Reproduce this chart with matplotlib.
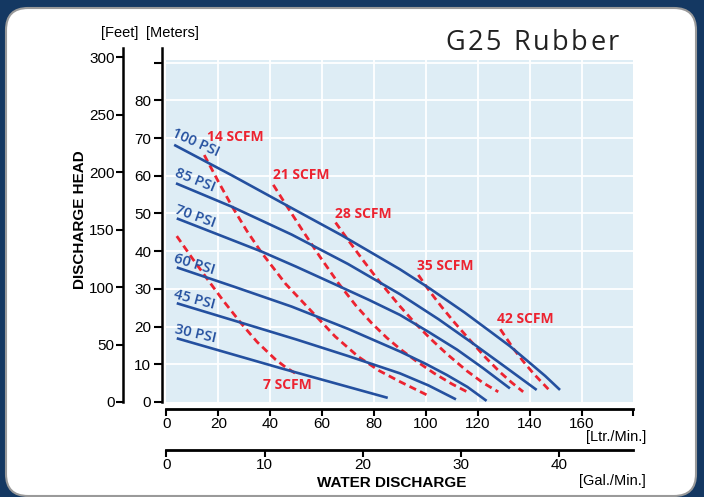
import numpy as np
import matplotlib
matplotlib.use('Agg')
import matplotlib.pyplot as plt
from matplotlib.patches import FancyBboxPatch, Rectangle
from matplotlib.transforms import IdentityTransform

# --- air pressure curves (x = Ltr./Min., y = Meters) ---
psi_names = ['100 PSI', '85 PSI', '70 PSI', '60 PSI', '45 PSI', '30 PSI']
psi100_x = [3.0, 25, 45.7, 67.6, 90, 101.3, 115, 125, 132.4, 140, 146, 151.7]
psi100_y = [68.2, 60.2, 52.4, 44.2, 35.2, 30.2, 23.7, 18.6, 14.8, 10.4, 6.9, 3.2]
psi85_x = [3.7, 25.2, 48.3, 70, 90, 105, 118, 130, 142.7]
psi85_y = [58.0, 51.8, 44.4, 36.6, 28.6, 21.9, 15.6, 9.6, 3.2]
psi70_x = [4.0, 20, 36.7, 50, 65, 78, 90, 101, 112, 122, 132.4]
psi70_y = [48.7, 44.4, 39.9, 35.9, 31.2, 27.1, 23.1, 18.6, 13.9, 9.0, 3.6]
psi60_x = [4.0, 26, 48.3, 70, 90, 100, 108, 116, 123.4]
psi60_y = [35.7, 30.6, 25.3, 19.4, 13.4, 10.1, 7.2, 4.0, 0.3]
psi45_x = [4.0, 28, 50, 70, 90, 101, 111.6]
psi45_y = [26.2, 21.2, 16.6, 12.2, 7.6, 4.4, 0.7]
psi30_x = [4.0, 44.4, 85.3]
psi30_y = [16.9, 8.9, 1.1]

# --- air consumption curves ---
scfm_names = ['7 SCFM', '14 SCFM', '21 SCFM', '28 SCFM', '35 SCFM', '42 SCFM']
scfm7_x = [4.0, 10, 16.1, 22, 29.0, 35, 42.0, 46, 50.2]
scfm7_y = [44.0, 38.1, 32.3, 26.8, 20.7, 15.9, 11.3, 9.2, 7.4]
scfm14_x = [14.6, 20, 25.2, 31, 36.7, 46, 56, 65, 74, 82, 90, 100.3]
scfm14_y = [65.5, 58.5, 52.0, 45.4, 39.6, 31.3, 24.0, 17.4, 12.0, 8.3, 5.4, 1.9]
scfm21_x = [41.2, 46, 52, 59, 66.2, 73, 79, 85, 90, 96, 103, 110, 117]
scfm21_y = [57.6, 52.4, 46.0, 38.7, 31.6, 25.6, 21.0, 17.0, 14.1, 11.0, 7.7, 4.8, 2.3]
scfm28_x = [65.2, 70, 76, 81.7, 90, 96, 101.6, 108, 115.7, 122, 127.9]
scfm28_y = [47.6, 43.0, 37.4, 32.3, 25.4, 20.8, 16.9, 12.8, 8.3, 5.1, 2.7]
scfm35_x = [97.1, 101.3, 106, 111, 117, 123, 128.6, 133, 137.5]
scfm35_y = [33.7, 29.5, 25.3, 21.1, 16.4, 11.8, 7.9, 5.2, 2.7]
scfm42_x = [128.7, 133.7, 137.5, 141.4, 147.2]
scfm42_y = [19.3, 14.2, 10.8, 7.6, 3.4]

# axis ticks
lpm_ticks = [0, 20, 40, 60, 80, 100, 120, 140, 160]
gpm_ticks = [0, 10, 20, 30, 40]
meter_ticks = [0, 10, 20, 30, 40, 50, 60, 70, 80]
feet_ticks = [0, 50, 100, 150, 200, 250, 300]

LPM_PER_GAL = 3.78541
FT_PER_M = 3.28084

BLUE = '#24509f'
RED = '#ec2330'
BG = '#deedf5'
NAVY = '#143862'
NARROW = ['Liberation Sans Narrow', 'Liberation Sans', 'DejaVu Sans']
BOLD = ['Liberation Sans', 'DejaVu Sans']
LABEL = ['Open Sans', 'DejaVu Sans']

fig = plt.figure(figsize=(7.04, 4.97), dpi=100, facecolor=NAVY)

# white rounded panel
panel = FancyBboxPatch((6, 1), 690, 488, boxstyle='round,pad=0,rounding_size=22',
                       transform=IdentityTransform(), facecolor='white',
                       edgecolor='#9a9a9a', linewidth=1.5, zorder=-10)
fig.patches.append(panel)

# main plot (meters axis on the left spine)
ax = fig.add_axes([0.2308, 0.19115, 0.6690, 0.7131])
ax.set_facecolor('none')
ax.set_xlim(-1.5, 180)
ax.set_ylim(0, 94)
for s in ['top', 'right', 'bottom']:
    ax.spines[s].set_visible(False)
ax.spines['left'].set_linewidth(1.8)
ax.set_xticks([])
ax.set_yticks(meter_ticks + [90])
ax.set_yticklabels([str(t) for t in meter_ticks] + [''], family=NARROW, fontsize=11)
ax.tick_params(axis='y', direction='out', length=6, width=1.5, pad=2)

ax.add_patch(Rectangle((0, 0), 180, 90.6, facecolor=BG, edgecolor='none', zorder=0))
ax.vlines(lpm_ticks[1:], 0, 90.6, colors='white', linewidth=1.3, zorder=1)
ax.hlines(np.arange(10, 100, 10), 0, 180, colors='white', linewidth=1.3, zorder=1)

psi_series = [(psi100_x, psi100_y), (psi85_x, psi85_y), (psi70_x, psi70_y),
              (psi60_x, psi60_y), (psi45_x, psi45_y), (psi30_x, psi30_y)]
scfm_series = [(scfm7_x, scfm7_y), (scfm14_x, scfm14_y), (scfm21_x, scfm21_y),
               (scfm28_x, scfm28_y), (scfm35_x, scfm35_y), (scfm42_x, scfm42_y)]

for xs, ys in scfm_series:
    ax.plot(xs, ys, color=RED, linewidth=2, linestyle=(0, (2.6, 1.6)), zorder=2)
for xs, ys in psi_series:
    ax.plot(xs, ys, color=BLUE, linewidth=1.9, zorder=3, solid_capstyle='butt',
            solid_joinstyle='round')

# curve labels
psi_label_pos = [(11.3, 68.8, -24), (11.1, 58.9, -22), (11.1, 49.2, -20),
                 (10.9, 36.6, -17), (10.8, 27.1, -15), (11.2, 18.0, -13)]
for name, (lx, ly, rot) in zip(psi_names, psi_label_pos):
    ax.text(lx, ly, name, color=BLUE, fontsize=10.5, fontweight='semibold',
            family=LABEL, rotation=rot, ha='center', va='center',
            rotation_mode='anchor', zorder=4)

scfm_label_pos = [(37.3, 4.5), (15.5, 70.2), (41.2, 60.1), (65.0, 49.9),
                  (96.5, 36.1), (127.3, 22.0)]
for name, (lx, ly) in zip(scfm_names, scfm_label_pos):
    ax.text(lx, ly, name, color=RED, fontsize=10, fontweight='bold',
            family=LABEL, ha='left', va='center', zorder=4)

# feet axis
axf = fig.add_axes([0.1747, 0.19115, 0.0005, 0.7131])
axf.set_facecolor('none')
axf.set_ylim(0, 94 * FT_PER_M)
for s in ['top', 'right', 'bottom']:
    axf.spines[s].set_visible(False)
axf.spines['left'].set_linewidth(1.8)
axf.set_xticks([])
axf.set_yticks(feet_ticks)
axf.set_yticklabels([str(t) for t in feet_ticks], family=NARROW, fontsize=11)
axf.tick_params(axis='y', direction='out', length=5, width=1.5, pad=1)

# Ltr./Min. axis
axl = fig.add_axes([0.2308, 0.17706, 0.6690, 0.0001])
axl.set_facecolor('none')
axl.set_xlim(-1.5, 180)
for s in ['top', 'right', 'left']:
    axl.spines[s].set_visible(False)
axl.spines['bottom'].set_bounds(0, 180)
axl.spines['bottom'].set_linewidth(2)
axl.set_yticks([])
axl.set_xticks(lpm_ticks + [180])
axl.set_xticklabels([str(t) for t in lpm_ticks] + [''], family=NARROW, fontsize=11)
axl.tick_params(axis='x', direction='out', length=5, width=1.5, pad=1)

# Gal./Min. axis
axg = fig.add_axes([0.2308, 0.09457, 0.6690, 0.0001])
axg.set_facecolor('none')
axg.set_xlim(-1.5 / LPM_PER_GAL, 180 / LPM_PER_GAL)
for s in ['top', 'right', 'left']:
    axg.spines[s].set_visible(False)
axg.spines['bottom'].set_bounds(0, 180 / LPM_PER_GAL)
axg.spines['bottom'].set_linewidth(2)
axg.set_yticks([])
axg.set_xticks(gpm_ticks)
axg.set_xticklabels([str(t) for t in gpm_ticks], family=NARROW, fontsize=11)
axg.tick_params(axis='x', direction='out', length=5, width=1.5, pad=1)

# texts in pixel positions (origin top-left)
def ftext(px, py, s, **kw):
    return fig.text(px / 704, 1 - py / 497, s, **kw)

ftext(120, 33, '[Feet]', family=NARROW, fontsize=10.5, ha='center', va='center')
ftext(146, 33, '[Meters]', family=NARROW, fontsize=10.5, ha='left', va='center')
ftext(646, 437, '[Ltr./Min.]', family=NARROW, fontsize=10.5, ha='right', va='center')
ftext(646, 481, '[Gal./Min.]', family=NARROW, fontsize=10.5, ha='right', va='center')
ftext(392, 483, 'WATER DISCHARGE', family=BOLD, fontsize=11, fontweight='bold',
      ha='center', va='center')
ftext(80, 220, 'DISCHARGE HEAD', family=BOLD, fontsize=11, fontweight='bold',
      ha='center', va='center', rotation=90)

# title with letter spacing, placed glyph by glyph
renderer = fig.canvas.get_renderer()
title = 'G25 Rubber'
tracking = 2.6
px = 445
for ch in title:
    t = ftext(px, 43, ch, family=LABEL, fontsize=19.5, color='#222222',
              ha='left', va='center')
    if ch == ' ':
        w = 7
    else:
        w = t.get_window_extent(renderer).width
    px += w + tracking

fig.savefig('out.png', dpi=100, facecolor=NAVY)
plt.close(fig)
